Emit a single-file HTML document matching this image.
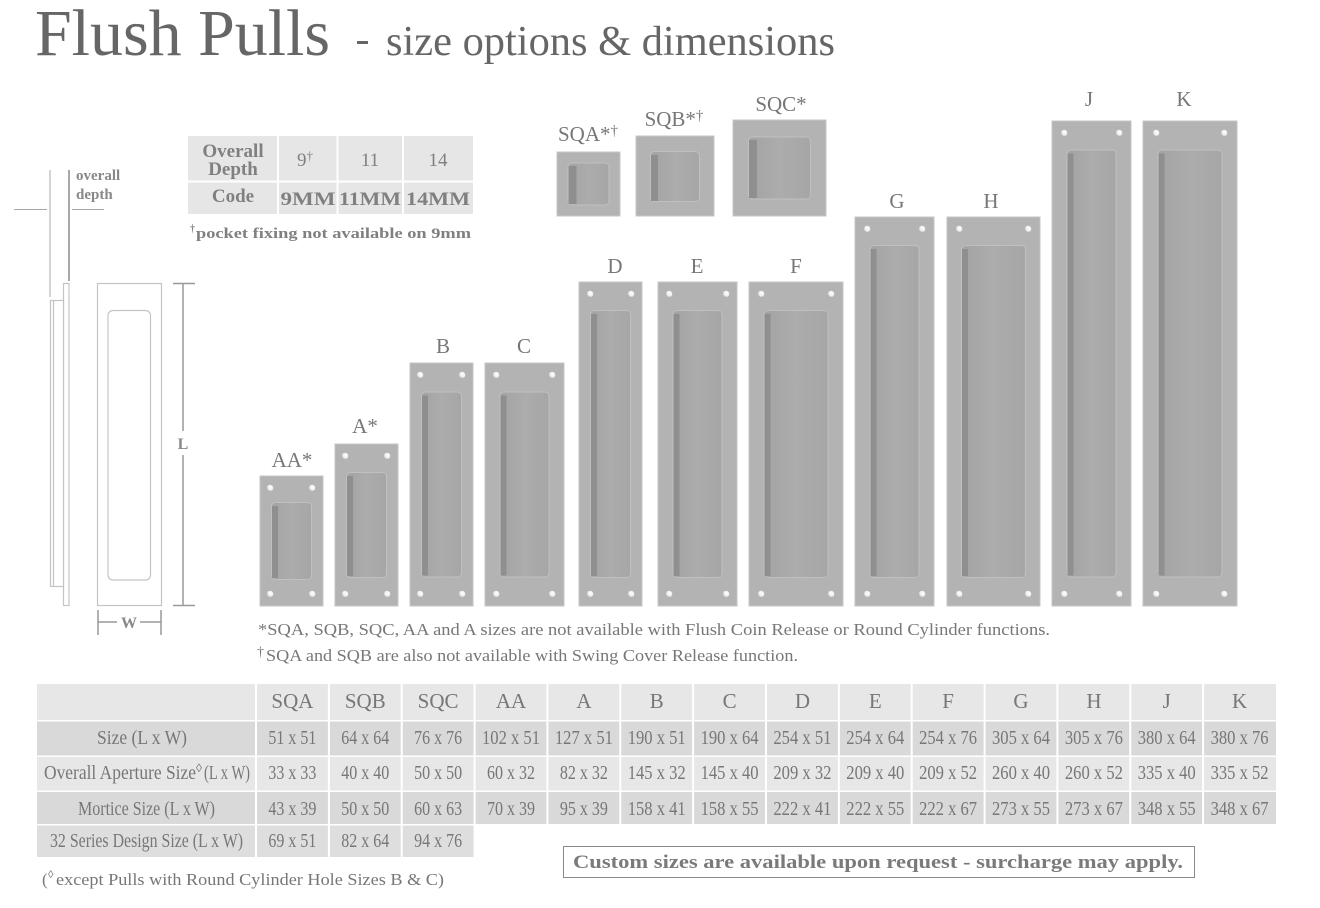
<!DOCTYPE html>
<html>
<head>
<meta charset="utf-8">
<style>
html,body{margin:0;padding:0;background:#fff;}
svg{display:block;}
text{font-family:"Liberation Serif","DejaVu Serif",serif;}
</style>
</head>
<body>
<svg width="1320" height="908" viewBox="0 0 1320 908" xmlns="http://www.w3.org/2000/svg">
<defs>
  <linearGradient id="rg" x1="0" y1="0" x2="1" y2="0">
    <stop offset="0" stop-color="#a3a3a3"/>
    <stop offset="0.5" stop-color="#acacac"/>
    <stop offset="1" stop-color="#a6a6a6"/>
  </linearGradient>
  <radialGradient id="hole" cx="0.6" cy="0.4" r="0.6">
    <stop offset="0" stop-color="#ffffff"/>
    <stop offset="0.7" stop-color="#ececec"/>
    <stop offset="1" stop-color="#b8b8b8"/>
  </radialGradient>
</defs>

<!-- Title -->
<text x="35" y="55" font-size="66" fill="#666" textLength="295" lengthAdjust="spacingAndGlyphs">Flush Pulls</text>
<rect x="357" y="41" width="11" height="3" fill="#666"/>
<text x="386" y="55" font-size="42" fill="#666" textLength="449" lengthAdjust="spacingAndGlyphs">size options &amp; dimensions</text>

<!-- Left diagram -->
<g stroke="#a8a8a8" fill="none">
  <line x1="50" y1="170" x2="50" y2="297" stroke-width="1"/>
  <line x1="69" y1="170" x2="69" y2="281" stroke-width="2"/>
  <line x1="14" y1="209.5" x2="47" y2="209.5" stroke-width="1"/>
  <line x1="72" y1="209.5" x2="104" y2="209.5" stroke-width="1"/>
</g>
<text x="76" y="180" font-size="15" font-weight="bold" fill="#888">overall</text>
<text x="76" y="199" font-size="15" font-weight="bold" fill="#888">depth</text>
<g stroke="#c4c4c4" fill="#fff" stroke-width="1.2">
  <rect x="63.5" y="283.5" width="5.5" height="322"/>
  <rect x="50.5" y="300.5" width="13" height="286"/>
  <line x1="53.5" y1="300.5" x2="53.5" y2="586.5"/>
  <rect x="97.5" y="283.5" width="64" height="322"/>
  <rect x="108" y="310.5" width="42.5" height="269.5" rx="5"/>
</g>
<g stroke="#999" stroke-width="1.5" fill="none">
  <line x1="183" y1="283.5" x2="183" y2="431"/>
  <line x1="183" y1="455" x2="183" y2="605.5"/>
  <line x1="173" y1="283.5" x2="195" y2="283.5"/>
  <line x1="173" y1="605.5" x2="195" y2="605.5"/>
  <line x1="98" y1="610" x2="98" y2="635"/>
  <line x1="161" y1="610" x2="161" y2="635"/>
  <line x1="98" y1="622" x2="117" y2="622"/>
  <line x1="140" y1="622" x2="161" y2="622"/>
</g>
<text x="183" y="449" font-size="16" font-weight="bold" fill="#888" text-anchor="middle">L</text>
<text x="129" y="628" font-size="16" font-weight="bold" fill="#888" text-anchor="middle">W</text>

<!-- Depth table -->
<rect x="188" y="136" width="285" height="78" fill="#e6e6e6"/>
<g stroke="#fff" stroke-width="2">
  <line x1="278" y1="136" x2="278" y2="214"/>
  <line x1="337.5" y1="136" x2="337.5" y2="214"/>
  <line x1="403" y1="136" x2="403" y2="214"/>
  <line x1="188" y1="181.5" x2="473" y2="181.5"/>
</g>
<g fill="#808080" font-size="19" text-anchor="middle">
  <text x="233" y="157" font-weight="bold">Overall</text>
  <text x="233" y="175" font-weight="bold">Depth</text>
  <text x="305" y="166">9<tspan font-size="13" dy="-6">†</tspan></text>
  <text x="370" y="166">11</text>
  <text x="438" y="166">14</text>
  <text x="233" y="202" font-weight="bold">Code</text>
  <text x="308" y="205" font-weight="bold" textLength="55" lengthAdjust="spacingAndGlyphs">9MM</text>
  <text x="370" y="205" font-weight="bold" textLength="62" lengthAdjust="spacingAndGlyphs">11MM</text>
  <text x="438" y="205" font-weight="bold" textLength="64" lengthAdjust="spacingAndGlyphs">14MM</text>
</g>
<text x="190" y="232" font-size="10" font-weight="bold" fill="#808080">†</text>
<text x="196" y="238" font-size="15" font-weight="bold" fill="#808080" textLength="275" lengthAdjust="spacingAndGlyphs">pocket fixing not available on 9mm</text>

<!-- Pull labels -->
<g fill="#777" font-size="21" text-anchor="middle">
  <text x="588" y="141">SQA*<tspan font-size="15" dy="-6">†</tspan></text>
  <text x="674" y="126">SQB*<tspan font-size="15" dy="-6">†</tspan></text>
  <text x="781" y="111">SQC*</text>
  <text x="292" y="467">AA*</text>
  <text x="365" y="433">A*</text>
  <text x="443" y="353">B</text>
  <text x="524" y="353">C</text>
  <text x="615" y="273">D</text>
  <text x="697" y="273">E</text>
  <text x="796" y="273">F</text>
  <text x="897" y="208">G</text>
  <text x="991" y="208">H</text>
  <text x="1089" y="106">J</text>
  <text x="1184" y="106">K</text>
</g>

<!-- Square pulls -->
<g>
  <rect x="557" y="152" width="63" height="64" fill="#b3b3b3" stroke="#c6c6c6"/>
  <rect x="568" y="163" width="41" height="42" rx="4" fill="url(#rg)" stroke="#c0c0c0"/>
  <rect x="568.5" y="166" width="8" height="38" fill="#8f8f8f"/>

  <rect x="636" y="136" width="78" height="80" fill="#b3b3b3" stroke="#c6c6c6"/>
  <rect x="650.5" y="151.5" width="49" height="50" rx="4" fill="url(#rg)" stroke="#c0c0c0"/>
  <rect x="651" y="155" width="7" height="46" fill="#8f8f8f"/>

  <rect x="733" y="120" width="93" height="96" fill="#b3b3b3" stroke="#c6c6c6"/>
  <rect x="748.5" y="137" width="62" height="62" rx="4" fill="url(#rg)" stroke="#c0c0c0"/>
  <rect x="749" y="140" width="8" height="58" fill="#8f8f8f"/>
</g>

<!-- Rectangular pulls -->
<g id="pulls">
  <rect x="260" y="476" width="63" height="130" fill="#b3b3b3" stroke="#c6c6c6"/>
  <rect x="271.5" y="502.5" width="40" height="77" rx="4" fill="url(#rg)" stroke="#c0c0c0"/>
  <rect x="272" y="506" width="6" height="72" fill="#8f8f8f"/>

  <rect x="335" y="444" width="63" height="162" fill="#b3b3b3" stroke="#c6c6c6"/>
  <rect x="346.5" y="472.5" width="40" height="105" rx="4" fill="url(#rg)" stroke="#c0c0c0"/>
  <rect x="347" y="476" width="6" height="100" fill="#8f8f8f"/>

  <rect x="410" y="363" width="63" height="243" fill="#b3b3b3" stroke="#c6c6c6"/>
  <rect x="421.5" y="392" width="40" height="185" rx="4" fill="url(#rg)" stroke="#c0c0c0"/>
  <rect x="422" y="395.5" width="6" height="180" fill="#8f8f8f"/>

  <rect x="485" y="363" width="79" height="243" fill="#b3b3b3" stroke="#c6c6c6"/>
  <rect x="500" y="392" width="49" height="185" rx="4" fill="url(#rg)" stroke="#c0c0c0"/>
  <rect x="500.5" y="395.5" width="6" height="180" fill="#8f8f8f"/>

  <rect x="579" y="282" width="63" height="324" fill="#b3b3b3" stroke="#c6c6c6"/>
  <rect x="590.5" y="310.5" width="40" height="267" rx="4" fill="url(#rg)" stroke="#c0c0c0"/>
  <rect x="591" y="314" width="6" height="262" fill="#8f8f8f"/>

  <rect x="658" y="282" width="79" height="324" fill="#b3b3b3" stroke="#c6c6c6"/>
  <rect x="673" y="310.5" width="49" height="267" rx="4" fill="url(#rg)" stroke="#c0c0c0"/>
  <rect x="673.5" y="314" width="6" height="262" fill="#8f8f8f"/>

  <rect x="749" y="282" width="94" height="324" fill="#b3b3b3" stroke="#c6c6c6"/>
  <rect x="764" y="310.5" width="64" height="267" rx="4" fill="url(#rg)" stroke="#c0c0c0"/>
  <rect x="764.5" y="314" width="6" height="262" fill="#8f8f8f"/>

  <rect x="855" y="217" width="79" height="389" fill="#b3b3b3" stroke="#c6c6c6"/>
  <rect x="870" y="245.5" width="49" height="332" rx="4" fill="url(#rg)" stroke="#c0c0c0"/>
  <rect x="870.5" y="249" width="6" height="327" fill="#8f8f8f"/>

  <rect x="947" y="217" width="93" height="389" fill="#b3b3b3" stroke="#c6c6c6"/>
  <rect x="961.5" y="245.5" width="64" height="332" rx="4" fill="url(#rg)" stroke="#c0c0c0"/>
  <rect x="962" y="249" width="6" height="327" fill="#8f8f8f"/>

  <rect x="1052" y="121" width="79" height="485" fill="#b3b3b3" stroke="#c6c6c6"/>
  <rect x="1067" y="150" width="49" height="427" rx="4" fill="url(#rg)" stroke="#c0c0c0"/>
  <rect x="1067.5" y="153.5" width="6" height="422" fill="#8f8f8f"/>

  <rect x="1143" y="121" width="94" height="485" fill="#b3b3b3" stroke="#c6c6c6"/>
  <rect x="1158" y="150" width="64" height="427" rx="4" fill="url(#rg)" stroke="#c0c0c0"/>
  <rect x="1158.5" y="153.5" width="6" height="422" fill="#8f8f8f"/>
</g>

<!-- Holes -->
<g fill="url(#hole)">
  <circle cx="270" cy="488" r="3.3"/><circle cx="312" cy="488" r="3.3"/><circle cx="270" cy="594" r="3.3"/><circle cx="312" cy="594" r="3.3"/>
  <circle cx="345" cy="456" r="3.3"/><circle cx="387" cy="456" r="3.3"/><circle cx="345" cy="594" r="3.3"/><circle cx="387" cy="594" r="3.3"/>
  <circle cx="420" cy="375" r="3.3"/><circle cx="462" cy="375" r="3.3"/><circle cx="420" cy="594" r="3.3"/><circle cx="462" cy="594" r="3.3"/>
  <circle cx="496" cy="375" r="3.3"/><circle cx="552" cy="375" r="3.3"/><circle cx="496" cy="594" r="3.3"/><circle cx="552" cy="594" r="3.3"/>
  <circle cx="590" cy="294" r="3.3"/><circle cx="631" cy="294" r="3.3"/><circle cx="590" cy="594" r="3.3"/><circle cx="631" cy="594" r="3.3"/>
  <circle cx="669" cy="294" r="3.3"/><circle cx="726" cy="294" r="3.3"/><circle cx="669" cy="594" r="3.3"/><circle cx="726" cy="594" r="3.3"/>
  <circle cx="761" cy="294" r="3.3"/><circle cx="831" cy="294" r="3.3"/><circle cx="761" cy="594" r="3.3"/><circle cx="831" cy="594" r="3.3"/>
  <circle cx="867" cy="229" r="3.3"/><circle cx="922" cy="229" r="3.3"/><circle cx="867" cy="594" r="3.3"/><circle cx="922" cy="594" r="3.3"/>
  <circle cx="959" cy="229" r="3.3"/><circle cx="1028" cy="229" r="3.3"/><circle cx="959" cy="594" r="3.3"/><circle cx="1028" cy="594" r="3.3"/>
  <circle cx="1064" cy="133" r="3.3"/><circle cx="1119" cy="133" r="3.3"/><circle cx="1064" cy="594" r="3.3"/><circle cx="1119" cy="594" r="3.3"/>
  <circle cx="1156" cy="133" r="3.3"/><circle cx="1224" cy="133" r="3.3"/><circle cx="1156" cy="594" r="3.3"/><circle cx="1224" cy="594" r="3.3"/>
</g>

<!-- Footnotes under pulls -->
<text x="258" y="635" font-size="17" fill="#777" textLength="792" lengthAdjust="spacingAndGlyphs">*SQA, SQB, SQC, AA and A sizes are not available with Flush Coin Release or Round Cylinder functions.</text>
<text x="257" y="656" font-size="14" fill="#777">†</text>
<text x="266" y="661" font-size="17" fill="#777" textLength="532" lengthAdjust="spacingAndGlyphs">SQA and SQB are also not available with Swing Cover Release function.</text>

<!-- Bottom table backgrounds -->
<rect x="37" y="684" width="1239" height="36" fill="#e7e7e7"/>
<rect x="37" y="721.5" width="1239" height="34" fill="#d9d9d9"/>
<rect x="37" y="757" width="1239" height="33.5" fill="#e7e7e7"/>
<rect x="37" y="792" width="1239" height="32" fill="#d9d9d9"/>
<rect x="37" y="825.5" width="437" height="31.5" fill="#dedede"/>
<g stroke="#fff" stroke-width="2">
  <line x1="256" y1="684" x2="256" y2="858"/>
  <line x1="328.9" y1="684" x2="328.9" y2="858"/>
  <line x1="401.7" y1="684" x2="401.7" y2="858"/>
  <line x1="474.6" y1="684" x2="474.6" y2="858"/>
  <line x1="547.4" y1="684" x2="547.4" y2="825"/>
  <line x1="620.3" y1="684" x2="620.3" y2="825"/>
  <line x1="693.1" y1="684" x2="693.1" y2="825"/>
  <line x1="766" y1="684" x2="766" y2="825"/>
  <line x1="838.9" y1="684" x2="838.9" y2="825"/>
  <line x1="911.7" y1="684" x2="911.7" y2="825"/>
  <line x1="984.6" y1="684" x2="984.6" y2="825"/>
  <line x1="1057.4" y1="684" x2="1057.4" y2="825"/>
  <line x1="1130.3" y1="684" x2="1130.3" y2="825"/>
  <line x1="1203.1" y1="684" x2="1203.1" y2="825"/>
</g>

<!-- Header row -->
<g fill="#777" font-size="21" text-anchor="middle">
  <text x="292.4" y="708">SQA</text>
  <text x="365.3" y="708">SQB</text>
  <text x="438.1" y="708">SQC</text>
  <text x="511" y="708">AA</text>
  <text x="583.9" y="708">A</text>
  <text x="656.7" y="708">B</text>
  <text x="729.6" y="708">C</text>
  <text x="802.4" y="708">D</text>
  <text x="875.3" y="708">E</text>
  <text x="948.1" y="708">F</text>
  <text x="1021" y="708">G</text>
  <text x="1093.9" y="708">H</text>
  <text x="1166.7" y="708">J</text>
  <text x="1239.6" y="708">K</text>
</g>

<!-- Row labels -->
<g fill="#777" font-size="20">
  <text x="97" y="744" textLength="90" lengthAdjust="spacingAndGlyphs">Size (L x W)</text>
  <text x="44" y="779" textLength="152" lengthAdjust="spacingAndGlyphs">Overall Aperture Size</text>
  <text x="196" y="772" font-size="12">◊</text>
  <text x="204" y="779" textLength="46" lengthAdjust="spacingAndGlyphs">(L x W)</text>
  <text x="78" y="815" textLength="137" lengthAdjust="spacingAndGlyphs">Mortice Size (L x W)</text>
  <text x="50" y="847" textLength="193" lengthAdjust="spacingAndGlyphs">32 Series Design Size (L x W)</text>
</g>

<!-- Data rows -->
<g fill="#777" font-size="20" text-anchor="middle">
  <text x="292.4" y="744" textLength="48" lengthAdjust="spacingAndGlyphs">51 x 51</text>
  <text x="365.3" y="744" textLength="48" lengthAdjust="spacingAndGlyphs">64 x 64</text>
  <text x="438.1" y="744" textLength="48" lengthAdjust="spacingAndGlyphs">76 x 76</text>
  <text x="511" y="744" textLength="58" lengthAdjust="spacingAndGlyphs">102 x 51</text>
  <text x="583.9" y="744" textLength="58" lengthAdjust="spacingAndGlyphs">127 x 51</text>
  <text x="656.7" y="744" textLength="58" lengthAdjust="spacingAndGlyphs">190 x 51</text>
  <text x="729.6" y="744" textLength="58" lengthAdjust="spacingAndGlyphs">190 x 64</text>
  <text x="802.4" y="744" textLength="58" lengthAdjust="spacingAndGlyphs">254 x 51</text>
  <text x="875.3" y="744" textLength="58" lengthAdjust="spacingAndGlyphs">254 x 64</text>
  <text x="948.1" y="744" textLength="58" lengthAdjust="spacingAndGlyphs">254 x 76</text>
  <text x="1021" y="744" textLength="58" lengthAdjust="spacingAndGlyphs">305 x 64</text>
  <text x="1093.9" y="744" textLength="58" lengthAdjust="spacingAndGlyphs">305 x 76</text>
  <text x="1166.7" y="744" textLength="58" lengthAdjust="spacingAndGlyphs">380 x 64</text>
  <text x="1239.6" y="744" textLength="58" lengthAdjust="spacingAndGlyphs">380 x 76</text>

  <text x="292.4" y="779" textLength="48" lengthAdjust="spacingAndGlyphs">33 x 33</text>
  <text x="365.3" y="779" textLength="48" lengthAdjust="spacingAndGlyphs">40 x 40</text>
  <text x="438.1" y="779" textLength="48" lengthAdjust="spacingAndGlyphs">50 x 50</text>
  <text x="511" y="779" textLength="48" lengthAdjust="spacingAndGlyphs">60 x 32</text>
  <text x="583.9" y="779" textLength="48" lengthAdjust="spacingAndGlyphs">82 x 32</text>
  <text x="656.7" y="779" textLength="58" lengthAdjust="spacingAndGlyphs">145 x 32</text>
  <text x="729.6" y="779" textLength="58" lengthAdjust="spacingAndGlyphs">145 x 40</text>
  <text x="802.4" y="779" textLength="58" lengthAdjust="spacingAndGlyphs">209 x 32</text>
  <text x="875.3" y="779" textLength="58" lengthAdjust="spacingAndGlyphs">209 x 40</text>
  <text x="948.1" y="779" textLength="58" lengthAdjust="spacingAndGlyphs">209 x 52</text>
  <text x="1021" y="779" textLength="58" lengthAdjust="spacingAndGlyphs">260 x 40</text>
  <text x="1093.9" y="779" textLength="58" lengthAdjust="spacingAndGlyphs">260 x 52</text>
  <text x="1166.7" y="779" textLength="58" lengthAdjust="spacingAndGlyphs">335 x 40</text>
  <text x="1239.6" y="779" textLength="58" lengthAdjust="spacingAndGlyphs">335 x 52</text>

  <text x="292.4" y="815" textLength="48" lengthAdjust="spacingAndGlyphs">43 x 39</text>
  <text x="365.3" y="815" textLength="48" lengthAdjust="spacingAndGlyphs">50 x 50</text>
  <text x="438.1" y="815" textLength="48" lengthAdjust="spacingAndGlyphs">60 x 63</text>
  <text x="511" y="815" textLength="48" lengthAdjust="spacingAndGlyphs">70 x 39</text>
  <text x="583.9" y="815" textLength="48" lengthAdjust="spacingAndGlyphs">95 x 39</text>
  <text x="656.7" y="815" textLength="58" lengthAdjust="spacingAndGlyphs">158 x 41</text>
  <text x="729.6" y="815" textLength="58" lengthAdjust="spacingAndGlyphs">158 x 55</text>
  <text x="802.4" y="815" textLength="58" lengthAdjust="spacingAndGlyphs">222 x 41</text>
  <text x="875.3" y="815" textLength="58" lengthAdjust="spacingAndGlyphs">222 x 55</text>
  <text x="948.1" y="815" textLength="58" lengthAdjust="spacingAndGlyphs">222 x 67</text>
  <text x="1021" y="815" textLength="58" lengthAdjust="spacingAndGlyphs">273 x 55</text>
  <text x="1093.9" y="815" textLength="58" lengthAdjust="spacingAndGlyphs">273 x 67</text>
  <text x="1166.7" y="815" textLength="58" lengthAdjust="spacingAndGlyphs">348 x 55</text>
  <text x="1239.6" y="815" textLength="58" lengthAdjust="spacingAndGlyphs">348 x 67</text>

  <text x="292.4" y="847" textLength="48" lengthAdjust="spacingAndGlyphs">69 x 51</text>
  <text x="365.3" y="847" textLength="48" lengthAdjust="spacingAndGlyphs">82 x 64</text>
  <text x="438.1" y="847" textLength="48" lengthAdjust="spacingAndGlyphs">94 x 76</text>
</g>

<!-- Custom sizes box -->
<rect x="563.5" y="846.5" width="631" height="31" fill="#fff" stroke="#8a8a8a" stroke-width="1"/>
<text x="573" y="868" font-size="19" font-weight="bold" fill="#7a7a7a" textLength="610" lengthAdjust="spacingAndGlyphs">Custom sizes are available upon request - surcharge may apply.</text>

<!-- Bottom footnote -->
<text x="42" y="885" font-size="17" fill="#777">(</text>
<text x="48" y="878" font-size="11" fill="#777">◊</text>
<text x="56" y="885" font-size="17" fill="#777" textLength="388" lengthAdjust="spacingAndGlyphs">except Pulls with Round Cylinder Hole Sizes B &amp; C)</text>
</svg>
</body>
</html>
